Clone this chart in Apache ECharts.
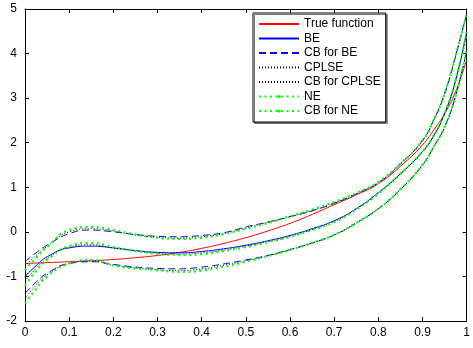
<!DOCTYPE html>
<html>
<head>
<meta charset="utf-8">
<script src="https://cdn.jsdelivr.net/npm/echarts@6/dist/echarts.min.js"></script>
<style>
  html, body { margin: 0; padding: 0; background: #fff; }
  #chart { width: 473px; height: 348px; }
</style>
</head>
<body>
<div id="chart"></div>
<script>
// sample positions
const xs = [0, 0.025, 0.05, 0.1, 0.15, 0.2, 0.25, 0.3, 0.35, 0.4, 0.45, 0.5, 0.55, 0.6, 0.65, 0.7, 0.75, 0.8, 0.85, 0.9, 0.925, 0.95, 0.975, 1];

const trueFn   = [-0.71, -0.70, -0.69, -0.67, -0.65, -0.62, -0.58, -0.53, -0.46, -0.37, -0.26, -0.13, 0.02, 0.19, 0.39, 0.61, 0.83, 1.08, 1.47, 1.95, 2.28, 2.65, 3.15, 3.86];

const be       = [-1.00, -0.76, -0.56, -0.36, -0.32, -0.36, -0.42, -0.46, -0.47, -0.44, -0.38, -0.30, -0.20, -0.08, 0.07, 0.25, 0.52, 0.88, 1.30, 1.80, 2.15, 2.65, 3.40, 4.48];
const beUp     = [-0.67, -0.47, -0.30, -0.04, 0.04, 0.00, -0.06, -0.10, -0.11, -0.08, -0.02, 0.11, 0.22, 0.34, 0.47, 0.64, 0.85, 1.10, 1.52, 2.05, 2.50, 3.10, 3.95, 4.89];
const beLo     = [-1.38, -1.13, -0.93, -0.71, -0.67, -0.73, -0.79, -0.82, -0.83, -0.79, -0.72, -0.63, -0.53, -0.40, -0.25, -0.07, 0.20, 0.52, 0.95, 1.50, 1.90, 2.35, 3.05, 4.07];

const cplse    = [-1.10, -0.82, -0.60, -0.34, -0.29, -0.36, -0.43, -0.48, -0.50, -0.47, -0.41, -0.32, -0.22, -0.10, 0.05, 0.23, 0.51, 0.87, 1.30, 1.80, 2.15, 2.65, 3.40, 4.48];
const cplseUp  = [-0.76, -0.53, -0.33, 0.00, 0.07, 0.02, -0.07, -0.12, -0.14, -0.11, -0.04, 0.09, 0.21, 0.34, 0.48, 0.65, 0.86, 1.11, 1.53, 2.05, 2.50, 3.10, 3.95, 4.89];
const cplseLo  = [-1.50, -1.20, -0.96, -0.71, -0.65, -0.75, -0.81, -0.85, -0.87, -0.83, -0.75, -0.65, -0.54, -0.40, -0.25, -0.07, 0.20, 0.52, 0.95, 1.50, 1.90, 2.35, 3.05, 4.07];

const ne       = [-1.20, -0.88, -0.63, -0.32, -0.25, -0.34, -0.43, -0.49, -0.52, -0.50, -0.43, -0.34, -0.23, -0.11, 0.04, 0.22, 0.50, 0.86, 1.30, 1.80, 2.15, 2.65, 3.40, 4.48];
const neUp     = [-0.86, -0.58, -0.34, 0.04, 0.11, 0.04, -0.06, -0.13, -0.16, -0.13, -0.05, 0.07, 0.20, 0.35, 0.50, 0.67, 0.87, 1.12, 1.53, 2.05, 2.50, 3.10, 3.95, 4.89];
const neLo     = [-1.60, -1.28, -1.00, -0.71, -0.63, -0.75, -0.82, -0.86, -0.90, -0.87, -0.78, -0.67, -0.54, -0.40, -0.25, -0.07, 0.20, 0.52, 0.95, 1.50, 1.90, 2.35, 3.05, 4.07];

const legendNames = ['True function', 'BE', 'CB for BE', 'CPLSE', 'CB for CPLSE', 'NE', 'CB for NE'];

const pairs = ys => xs.map((x, i) => [x, ys[i]]);

const chart = echarts.init(document.getElementById('chart'));

const FONT = 'Liberation Sans';

const redLine   = { color: '#ff0000', width: 1, type: 'solid' };
const blueLine  = { color: '#0000ff', width: 1, type: 'solid' };
const blueDash  = { color: '#0000ff', width: 1, type: [7, 4] };
const blackDot  = { color: '#000000', width: 1, type: [1, 2] };
const greenDot  = { color: '#00ff00', width: 2.2, type: [2, 3.5] };

function line(name, ys, style, z, sym) {
  return {
    name,
    type: 'line',
    data: pairs(ys),
    smooth: true,
    symbol: sym ? 'circle' : 'none',
    showSymbol: false,
    itemStyle: { color: style.color },
    lineStyle: style,
    silent: true,
    z,
  };
}

const series = [
  line('True function', trueFn, redLine, 2),
  line('BE', be, blueLine, 3),
  line('CB for BE', beUp, blueDash, 3),
  line('CB for BE', beLo, blueDash, 3),
  line('CPLSE', cplse, blackDot, 4),
  line('CB for CPLSE', cplseUp, blackDot, 4),
  line('CB for CPLSE', cplseLo, blackDot, 4),
  line('NE', ne, greenDot, 5, true),
  line('CB for NE', neUp, greenDot, 5, true),
  line('CB for NE', neLo, greenDot, 5, true),
];

const axisCommon = {
  axisLine: { show: true, onZero: false, lineStyle: { color: '#000', width: 1 } },
  axisTick: { show: true, inside: true, length: 4, lineStyle: { color: '#000' } },
  splitLine: { show: false },
};

chart.setOption({
  animation: false,
  backgroundColor: '#fff',
  textStyle: { fontFamily: FONT },
  grid: { left: 25, right: 1, top: 9, bottom: 27, containLabel: false },
  legend: {
    orient: 'vertical',
    left: 253,
    top: 13,
    padding: [5, 5, 5, 5],
    itemWidth: 40,
    itemHeight: 4,
    itemGap: 2.5,
    backgroundColor: '#fff',
    borderColor: '#000',
    borderWidth: 1,
    borderRadius: 0,
    shadowColor: '#777',
    shadowOffsetX: 1.5,
    shadowOffsetY: 1.5,
    shadowBlur: 0,
    textStyle: { fontFamily: FONT, fontSize: 12, color: '#000' },
    // only the NE entries keep their dot marker
    data: legendNames.map(n => (n === 'NE' || n === 'CB for NE')
      ? { name: n }
      : { name: n, itemStyle: { opacity: 0 } }),
  },
  xAxis: [
    {
      ...axisCommon,
      type: 'value',
      min: 0, max: 1, interval: 0.1,
      position: 'bottom',
      axisLabel: { color: '#000', fontSize: 12, margin: 6, fontFamily: FONT, formatter: v => String(Math.round(v * 10) / 10) },
    },
    {
      ...axisCommon,
      type: 'value',
      min: 0, max: 1, interval: 0.1,
      position: 'top',
      axisLabel: { show: false },
    },
  ],
  yAxis: [
    {
      ...axisCommon,
      type: 'value',
      min: -2, max: 5, interval: 1,
      position: 'left',
      axisLabel: { color: '#000', fontSize: 12, margin: 8, fontFamily: FONT },
    },
    {
      ...axisCommon,
      type: 'value',
      min: -2, max: 5, interval: 1,
      position: 'right',
      axisLabel: { show: false },
    },
  ],
  series,
});
</script>
</body>
</html>
